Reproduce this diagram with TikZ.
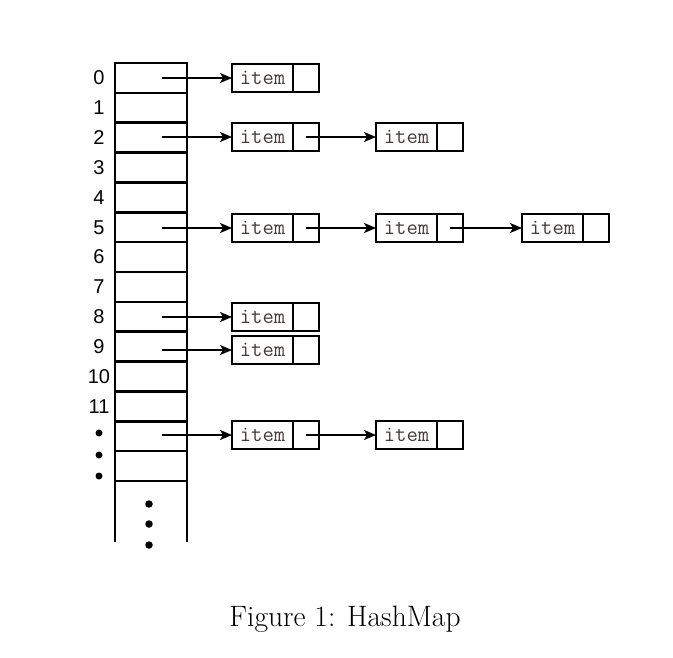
\documentclass[tikz,border=0pt]{standalone}
\usepackage{fontspec}
\setmainfont{Latin Modern Roman}
\newfontfamily\labfont{Liberation Sans}
\usetikzlibrary{arrows.meta}
\definecolor{itemtext}{RGB}{70,60,55}
\tikzset{
  cell/.style={draw, line width=2.6pt, minimum width=72pt, minimum height=29.86pt, inner sep=0pt, outer sep=0pt},
  itembox/.style={draw, line width=2.1pt, minimum width=61pt, minimum height=28pt, inner sep=0pt, outer sep=0pt, font=\ttfamily\fontsize{22}{22}\selectfont, text=itemtext},
  ptrbox/.style={draw, line width=2.1pt, minimum width=26pt, minimum height=28pt, inner sep=0pt, outer sep=0pt},
  lab/.style={font=\labfont\fontsize{20}{20}\selectfont, inner sep=0pt},
  arr/.style={line width=1.4pt, -{Stealth[length=12pt,width=10pt,inset=3pt]}},
  dotc/.style={circle, fill=black, minimum size=7.5pt, inner sep=0pt}
}
\begin{document}
\begin{tikzpicture}[x=1pt,y=-1pt]
\useasboundingbox (0,0) rectangle (673,658);
% table cells
\foreach \i in {0,...,13}{
  \node[cell] (c\i) at (151,{63+29.86*(\i+0.5)}) {};
}
% open bottom part
\draw[line width=2.6pt] (c13.south west) -- ++(0,61);
\draw[line width=2.6pt] (c13.south east) -- ++(0,61);
\node[dotc] (bd1) at (149,504) {};
\node[dotc] (bd2) at (149,524) {};
\node[dotc] (bd3) at (149,545) {};
% labels
\foreach \i in {0,...,11}{
  \node[lab] (l\i) at (99,{63+29.86*(\i+0.5)}) {\i};
}
\node[dotc, minimum size=7pt] (ld1) at (99,433) {};
\node[dotc, minimum size=7pt] (ld2) at (99,455) {};
\node[dotc, minimum size=7pt] (ld3) at (99,476) {};
% item boxes: column x positions (west edges) 232, 376, 522
\newcommand{\itempair}[4]{%
  \node[itembox, anchor=west] (#1) at (#3,#4) {item};
  \node[ptrbox, anchor=west] (#2) at (#1.east) {};
}
\itempair{ia0}{pa0}{232}{78}
\itempair{ia2}{pa2}{232}{137}
\itempair{ib2}{pb2}{376}{137}
\itempair{ia5}{pa5}{232}{228}
\itempair{ib5}{pb5}{376}{228}
\itempair{ic5}{pc5}{522}{228}
\itempair{ia8}{pa8}{232}{317}
\itempair{ia9}{pa9}{232}{350}
\itempair{ia12}{pa12}{232}{435}
\itempair{ib12}{pb12}{376}{435}
% arrows from table
\foreach \r/\b in {0/ia0,2/ia2,5/ia5,8/ia8,9/ia9,12/ia12}{
  \draw[arr] ([xshift=11pt]c\r.center |- \b.west) -- (\b.west);
}
% chain arrows
\draw[arr] (pa2.center) -- (ib2.west);
\draw[arr] (pa5.center) -- (ib5.west);
\draw[arr] (pb5.center) -- (ic5.west);
\draw[arr] (pa12.center) -- (ib12.west);
% caption
\node[font=\fontsize{29.5}{32}\selectfont, inner sep=0pt] (cap) at (345,619) {Figure 1: HashMap};
\end{tikzpicture}
\end{document}
